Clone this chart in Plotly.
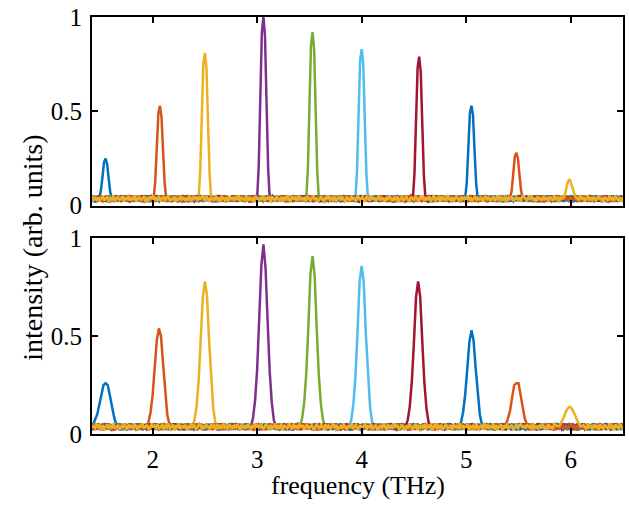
import numpy as np
import plotly.graph_objects as go
from plotly.subplots import make_subplots

colors = ["#0072BD", "#D95319", "#EDB120", "#7E2F8E", "#77AC30",
          "#4DBEEE", "#A2142F", "#0072BD", "#D95319", "#EDB120"]

# peak centre frequencies (THz)
centers_top = [1.55, 2.07, 2.50, 3.06, 3.53, 4.00, 4.55, 5.05, 5.48, 5.99]
centers_bot = [1.55, 2.06, 2.50, 3.06, 3.53, 4.00, 4.54, 5.05, 5.48, 5.99]

# sampled offsets around each peak (THz)
offs_top = [-0.06, -0.045, -0.03, -0.015, 0.0, 0.015, 0.03, 0.045, 0.06]
offs_bot = [-0.12, -0.10, -0.08, -0.06, -0.04, -0.02, 0.0, 0.02, 0.04, 0.06, 0.08, 0.10, 0.12]

peaks_top = [
    [0.04, 0.08, 0.15, 0.23, 0.25, 0.22, 0.14, 0.07, 0.04],
    [0.04, 0.13, 0.31, 0.49, 0.53, 0.47, 0.29, 0.12, 0.04],
    [0.04, 0.18, 0.46, 0.75, 0.81, 0.73, 0.44, 0.17, 0.04],
    [0.04, 0.21, 0.56, 0.92, 1.00, 0.90, 0.54, 0.20, 0.04],
    [0.04, 0.19, 0.52, 0.85, 0.92, 0.83, 0.50, 0.18, 0.04],
    [0.04, 0.18, 0.47, 0.77, 0.83, 0.75, 0.45, 0.17, 0.04],
    [0.04, 0.17, 0.45, 0.73, 0.79, 0.71, 0.43, 0.16, 0.04],
    [0.04, 0.12, 0.30, 0.49, 0.53, 0.48, 0.29, 0.12, 0.04],
    [0.04, 0.08, 0.17, 0.26, 0.28, 0.25, 0.16, 0.08, 0.04],
    [0.04, 0.06, 0.10, 0.13, 0.14, 0.12, 0.09, 0.06, 0.04],
]

peaks_bot = [
    [0.05, 0.07, 0.10, 0.15, 0.21, 0.25, 0.26, 0.25, 0.20, 0.14, 0.09, 0.05, 0.04],
    [0.04, 0.06, 0.11, 0.20, 0.34, 0.48, 0.54, 0.50, 0.36, 0.21, 0.10, 0.05, 0.04],
    [0.04, 0.07, 0.14, 0.27, 0.47, 0.70, 0.78, 0.71, 0.48, 0.27, 0.13, 0.06, 0.04],
    [0.04, 0.08, 0.17, 0.33, 0.59, 0.86, 0.97, 0.85, 0.58, 0.32, 0.16, 0.07, 0.04],
    [0.04, 0.08, 0.16, 0.31, 0.55, 0.82, 0.91, 0.81, 0.54, 0.30, 0.15, 0.07, 0.04],
    [0.04, 0.07, 0.15, 0.29, 0.52, 0.78, 0.86, 0.77, 0.51, 0.29, 0.14, 0.06, 0.04],
    [0.04, 0.07, 0.14, 0.27, 0.47, 0.70, 0.78, 0.70, 0.47, 0.26, 0.13, 0.06, 0.04],
    [0.04, 0.06, 0.11, 0.20, 0.33, 0.47, 0.53, 0.48, 0.34, 0.20, 0.10, 0.05, 0.04],
    [0.04, 0.05, 0.08, 0.12, 0.19, 0.25, 0.26, 0.26, 0.20, 0.13, 0.08, 0.05, 0.04],
    [0.04, 0.04, 0.06, 0.08, 0.11, 0.13, 0.14, 0.13, 0.11, 0.08, 0.06, 0.04, 0.04],
]

# baseline noise readings (intensity)
noise_a = [0.031, 0.046, 0.022, 0.039, 0.052, 0.027, 0.035, 0.048, 0.019, 0.041, 0.033, 0.055, 0.024, 0.038,
           0.047, 0.029, 0.036, 0.051, 0.021, 0.044, 0.032, 0.049, 0.026, 0.040, 0.034, 0.053, 0.023, 0.037,
           0.045, 0.030, 0.042, 0.050, 0.020, 0.038, 0.028, 0.047, 0.035, 0.054, 0.025, 0.041, 0.031, 0.048,
           0.022, 0.039, 0.046, 0.027, 0.043, 0.052, 0.024, 0.036, 0.033, 0.049, 0.021, 0.040, 0.029, 0.051,
           0.034, 0.045, 0.026, 0.038, 0.030, 0.053, 0.023, 0.042, 0.035, 0.047, 0.028, 0.044, 0.032, 0.050]
noise_b = [0.044, 0.025, 0.050, 0.033, 0.021, 0.047, 0.038, 0.026, 0.053, 0.030, 0.042, 0.020, 0.049, 0.036,
           0.028, 0.045, 0.023, 0.051, 0.034, 0.040, 0.027, 0.048, 0.031, 0.055, 0.022, 0.043, 0.037, 0.029,
           0.052, 0.024, 0.046, 0.032, 0.039, 0.019, 0.050, 0.035, 0.027, 0.044, 0.030, 0.054, 0.025, 0.041,
           0.036, 0.048, 0.021, 0.045, 0.033, 0.028, 0.051, 0.038, 0.023, 0.047, 0.031, 0.042, 0.026, 0.053,
           0.034, 0.020, 0.049, 0.037, 0.043, 0.024, 0.050, 0.029, 0.046, 0.032, 0.039, 0.022, 0.052, 0.035]
noise_c = [0.026, 0.040, 0.051, 0.029, 0.043, 0.020, 0.037, 0.049, 0.032, 0.024, 0.046, 0.035, 0.054, 0.027,
           0.041, 0.030, 0.048, 0.022, 0.039, 0.052, 0.028, 0.044, 0.033, 0.019, 0.047, 0.036, 0.025, 0.050,
           0.031, 0.042, 0.023, 0.053, 0.038, 0.029, 0.045, 0.034, 0.021, 0.048, 0.040, 0.026, 0.055, 0.032,
           0.044, 0.024, 0.037, 0.050, 0.028, 0.041, 0.035, 0.022, 0.046, 0.030, 0.052, 0.039, 0.025, 0.043,
           0.033, 0.049, 0.020, 0.038, 0.047, 0.027, 0.036, 0.051, 0.031, 0.023, 0.045, 0.040, 0.029, 0.048]
noise_d = [0.038, 0.021, 0.047, 0.034, 0.052, 0.026, 0.043, 0.030, 0.049, 0.023, 0.040, 0.055, 0.028, 0.036,
           0.045, 0.020, 0.050, 0.032, 0.041, 0.025, 0.053, 0.037, 0.029, 0.046, 0.022, 0.039, 0.051, 0.033,
           0.027, 0.048, 0.035, 0.042, 0.019, 0.054, 0.031, 0.044, 0.024, 0.037, 0.050, 0.028, 0.041, 0.033,
           0.047, 0.021, 0.039, 0.052, 0.030, 0.045, 0.026, 0.036, 0.049, 0.023, 0.042, 0.034, 0.053, 0.027,
           0.040, 0.031, 0.048, 0.022, 0.044, 0.035, 0.051, 0.025, 0.038, 0.046, 0.029, 0.043, 0.024, 0.050]
noise_e = [0.049, 0.032, 0.024, 0.045, 0.037, 0.053, 0.028, 0.041, 0.021, 0.047, 0.034, 0.039, 0.026, 0.051,
           0.030, 0.044, 0.022, 0.048, 0.036, 0.027, 0.054, 0.033, 0.042, 0.020, 0.046, 0.038, 0.029, 0.050,
           0.025, 0.043, 0.035, 0.052, 0.031, 0.023, 0.047, 0.040, 0.028, 0.055, 0.034, 0.045, 0.021, 0.039,
           0.050, 0.026, 0.044, 0.032, 0.048, 0.024, 0.037, 0.053, 0.030, 0.041, 0.022, 0.046, 0.035, 0.028,
           0.051, 0.033, 0.043, 0.025, 0.049, 0.038, 0.027, 0.044, 0.020, 0.047, 0.036, 0.052, 0.031, 0.040]
noise_sets = [noise_a, noise_b, noise_c, noise_d, noise_e]

x_ticks = [2, 3, 4, 5, 6]
y_ticks = [0, 0.5, 1]
y_ticklabels = ["0", "0.5", "1"]

F_MIN, F_MAX = 1.42, 6.5
STEP = 0.0146


def noise_sequence(k):
    seq = []
    for j in range(5):
        seq += noise_sets[(k + j) % 5]
    return seq


def build_series(center, offs, peak, noise, half_w, shift):
    grid = np.arange(F_MIN + shift, F_MAX + 0.001, STEP)
    base_y = np.array(noise[:len(grid)])
    grid = grid[:len(base_y)]
    mask = np.abs(grid - center) > half_w
    xs = np.concatenate([grid[mask], center + np.array(offs)])
    ys = np.concatenate([base_y[mask], np.array(peak)])
    order = np.argsort(xs)
    return xs[order], ys[order]


fig = make_subplots(rows=2, cols=1, shared_xaxes=False, vertical_spacing=0.0)

for i in range(10):
    seq = noise_sequence(i)
    seq = seq[(i * 23) % 70:] + seq[:(i * 23) % 70]
    xs, ys = build_series(centers_top[i], offs_top, peaks_top[i], seq, 0.065, 0.0)
    fig.add_trace(go.Scatter(x=xs, y=ys, mode="lines",
                             line=dict(color=colors[i], width=2.5),
                             showlegend=False, hoverinfo="skip"), row=1, col=1)

for i in range(10):
    seq = noise_sequence(i + 2)[::-1]
    seq = seq[(i * 31) % 70:] + seq[:(i * 31) % 70]
    xs, ys = build_series(centers_bot[i], offs_bot, peaks_bot[i], seq, 0.125, 0.0)
    fig.add_trace(go.Scatter(x=xs, y=ys, mode="lines",
                             line=dict(color=colors[i], width=2.5),
                             showlegend=False, hoverinfo="skip"), row=2, col=1)

FAMILY = "Liberation Serif, Times New Roman, serif"
tick_font = dict(family=FAMILY, size=25, color="black")

axis_common = dict(showline=True, linecolor="black", linewidth=2, mirror="ticks",
                   ticks="inside", ticklen=6, tickwidth=2, tickcolor="black",
                   showgrid=False, zeroline=False, tickfont=tick_font)

fig.update_xaxes(range=[F_MIN, F_MAX], tickvals=x_ticks, ticklabelstandoff=2, **axis_common)
fig.update_xaxes(showticklabels=False, row=1, col=1)
fig.update_yaxes(range=[0, 1], tickvals=y_ticks, ticktext=y_ticklabels,
                 ticklabelstandoff=3, **axis_common)

fig.update_layout(
    width=629, height=505,
    margin=dict(l=92, r=4, t=14, b=71),
    paper_bgcolor="white", plot_bgcolor="white",
    font=tick_font,
    xaxis=dict(domain=[0, 1]),
    yaxis=dict(domain=[0.5476, 1.0]),
    xaxis2=dict(domain=[0, 1]),
    yaxis2=dict(domain=[0.0, 0.469]),
)

fig.add_annotation(text="intensity (arb. units)", xref="paper", yref="paper",
                   x=-0.1126, y=0.447, textangle=-90, showarrow=False,
                   font=dict(family=FAMILY, size=28, color="black"),
                   xanchor="center", yanchor="middle")
fig.add_annotation(text="frequency (THz)", xref="paper", yref="paper",
                   x=0.5, y=-0.123, showarrow=False,
                   font=dict(family=FAMILY, size=26, color="black"),
                   xanchor="center", yanchor="middle")

fig.write_html("out.html", config={"displayModeBar": False},
               post_script="document.body.style.margin='0';")
